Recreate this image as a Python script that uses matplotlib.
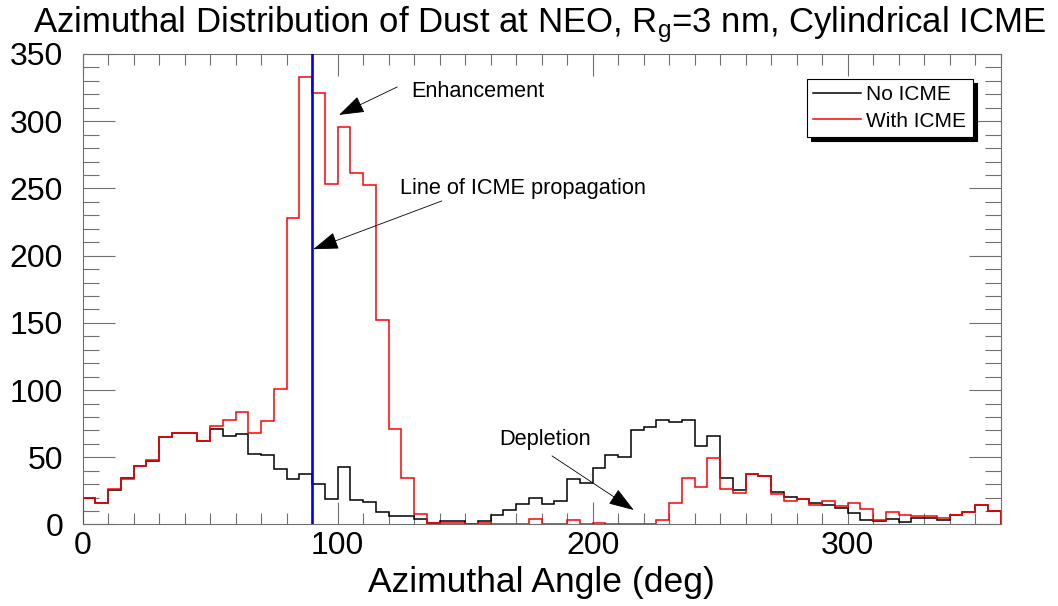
import numpy as np
import matplotlib
matplotlib.use("Agg")
import matplotlib.pyplot as plt
from matplotlib.ticker import MultipleLocator

plt.rcParams['font.family'] = ['Liberation Sans', 'DejaVu Sans']
plt.rcParams['mathtext.fontset'] = 'custom'
plt.rcParams['mathtext.rm'] = 'Liberation Sans'
plt.rcParams['mathtext.it'] = 'Liberation Sans'

# 5-degree azimuthal bins
bin_edges = np.arange(0, 365, 5)

no_icme = [20, 16, 26, 34.5, 43.5, 47, 65, 68, 68, 62,
           71, 66, 67, 52.5, 51.5, 41, 34, 37.5, 30, 19.25,
           43, 18.25, 17, 9.25, 6.25, 6.25, 4.25, 1.25, 2.75, 2.75,
           0.5, 2.75, 7.25, 10.5, 15.5, 19.5, 15.5, 17.5, 33.5, 30.5,
           42, 51.5, 50.5, 70.5, 72.5, 78, 76, 78, 58.5, 65.5,
           34.25, 25.75, 37.5, 35.75, 24.5, 20.25, 18.75, 16.25, 14.25, 12.5,
           8.25, 3, 2.5, 4.25, 2, 5, 5, 3, 7, 9.5,
           14.5, 10]

with_icme = [20, 16, 26.25, 33.75, 43.75, 48, 65, 68, 68, 62,
             73, 78, 84, 68, 77, 100.7, 228, 332.8, 321, 253.4,
             295.6, 261.6, 252.4, 152, 71, 34.5, 8, 1.25, 1, 1.25,
             0, 1, 0, 0, 0, 4, 0, 0, 3, 0,
             1, 0, 0, 0, 0, 3.25, 16.25, 34.5, 28.25, 49.5,
             26.75, 23.25, 37.5, 35.75, 22.5, 17.5, 19.25, 14.25, 17.25, 13.5,
             15.75, 11.25, 3, 9.5, 7, 6.25, 6, 5, 7, 9.5,
             14.5, 10]

icme_direction = 90

fig = plt.figure(figsize=(10.58, 6.06), dpi=100)
ax = fig.add_axes([0.078, 0.1345, 0.8678, 0.7764])

ax.stairs(no_icme, bin_edges, baseline=0, color='black', lw=1.1, label='No ICME', zorder=2)
ax.stairs(with_icme, bin_edges, baseline=0, color='red', lw=1.1, label='With ICME', zorder=3)
ax.axvline(icme_direction, color='#0000ee', lw=1.9, zorder=4)

ax.set_xlim(0, 360)
ax.set_ylim(0, 350)

ax.xaxis.set_major_locator(MultipleLocator(100))
ax.xaxis.set_minor_locator(MultipleLocator(10))
ax.yaxis.set_major_locator(MultipleLocator(50))
ax.yaxis.set_minor_locator(MultipleLocator(10))
tc = '#707070'
ax.tick_params(axis='both', which='both', direction='in', top=True, right=True,
               color=tc, width=0.8, labelsize=23)
ax.tick_params(axis='x', which='major', length=16, pad=5)
ax.tick_params(axis='x', which='minor', length=8)
ax.tick_params(axis='y', which='major', length=23, pad=14)
ax.tick_params(axis='y', which='minor', length=11.5)
for s in ax.spines.values():
    s.set_color(tc)
    s.set_linewidth(0.8)

ax.set_xlabel('Azimuthal Angle (deg)', fontsize=25.5, labelpad=3)

fig.text(0.5095, 0.947, r'Azimuthal Distribution of Dust at NEO, R$_\mathrm{g}$=3 nm, Cylindrical ICME',
         ha='center', va='baseline', fontsize=25)

arrow = dict(arrowstyle='-|>,head_length=1.6,head_width=0.55', color='black', lw=0.6,
             shrinkA=0, shrinkB=0)
ax.annotate('', xy=(100.6, 304.7), xytext=(123.4, 325.5), arrowprops=arrow)
ax.text(128.9, 321.8, 'Enhancement', fontsize=15.6, va='center', ha='left')
ax.annotate('', xy=(90.5, 204.8), xytext=(140.9, 240.7), arrowprops=arrow)
ax.text(124.6, 250.1, 'Line of ICME propagation', fontsize=15.7, va='center', ha='left')
ax.annotate('', xy=(216.1, 10.8), xytext=(184.1, 51), arrowprops=arrow)
ax.text(163.4, 62.9, 'Depletion', fontsize=15.7, va='center', ha='left')

leg = ax.legend(loc='upper left', bbox_to_anchor=(807 / 1058, 1 - 79 / 606),
                bbox_transform=fig.transFigure, borderaxespad=0, fontsize=15,
                frameon=True, fancybox=False, edgecolor='black', framealpha=1,
                shadow={'color': 'black', 'alpha': 1, 'ox': 3, 'oy': -3},
                handlelength=2.3, handletextpad=0.25, borderpad=0.3,
                labelspacing=0.35)
leg.get_frame().set_linewidth(0.8)

fig.savefig('out.png', dpi=100)
